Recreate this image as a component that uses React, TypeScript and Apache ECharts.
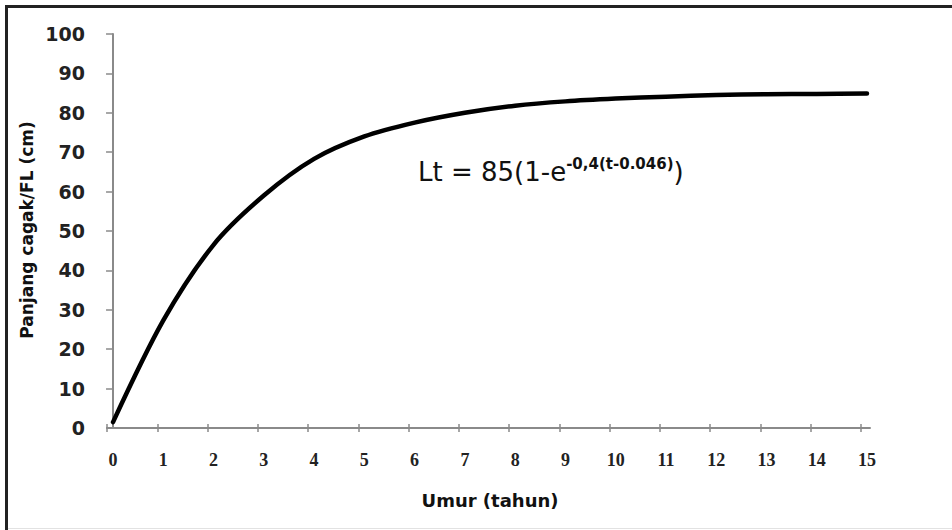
import React, { useEffect, useRef } from "react";
import * as echarts from "echarts";

const ages = [0, 1, 2, 3, 4, 5, 6, 7, 8, 9, 10, 11, 12, 13, 14, 15];
const lengths = [1.5, 27.3, 46.5, 59, 68.3, 74, 77.5, 80, 81.8, 82.9, 83.6, 84.1, 84.5, 84.7, 84.8, 84.9];
const xTickLabels = ["0", "1", "2", "3", "4", "5", "6", "7", "8", "9", "10", "11", "12", "13", "14", "15"];
const yTicks = [0, 10, 20, 30, 40, 50, 60, 70, 80, 90, 100];

const SANS = "'DejaVu Sans', 'Open Sans', sans-serif";
const SERIF = "'Liberation Serif', serif";
const AXIS_GRAY = "#8a8a8a";

export default function App() {
  const ref = useRef<HTMLDivElement>(null);

  useEffect(() => {
    if (!ref.current) return;
    const chart = echarts.init(ref.current, null, { renderer: "svg" });
    const xMin = -0.12;
    const xMax = 15.06;
    const tickOffsets = ages.map((a) => a + xMin);
    const xAxisBase = {
      type: "value" as const,
      min: xMin,
      max: xMax,
      splitLine: { show: false },
    };
    chart.setOption({
      animation: false,
      backgroundColor: "#ffffff",
      grid: { left: 107, top: 34, width: 763, height: 394, containLabel: false },
      xAxis: [
        {
          ...xAxisBase,
          axisLine: { show: true, lineStyle: { color: AXIS_GRAY, width: 2 } },
          axisTick: {
            show: true,
            length: 4,
            customValues: tickOffsets,
            lineStyle: { color: AXIS_GRAY, width: 1.5 },
          },
          axisLabel: {
            customValues: ages,
            formatter: (v: number) => xTickLabels[Math.round(v)] ?? "",
            margin: 23,
            fontFamily: SERIF,
            fontWeight: "bold",
            fontSize: 18,
            color: "#222",
          },
        },
        {
          ...xAxisBase,
          position: "bottom",
          axisLine: { show: false },
          axisTick: {
            show: true,
            inside: true,
            length: 4,
            customValues: tickOffsets,
            lineStyle: { color: AXIS_GRAY, width: 1.5 },
          },
          axisLabel: { show: false },
        },
      ],
      yAxis: {
        type: "value",
        min: 0,
        max: 100,
        interval: 10,
        splitLine: { show: false },
        axisLine: { show: true, lineStyle: { color: AXIS_GRAY, width: 2 } },
        axisTick: { show: true, length: 7, lineStyle: { color: AXIS_GRAY, width: 1.5 } },
        axisLabel: {
          margin: 22,
          fontFamily: SANS,
          fontWeight: "bold",
          fontSize: 19,
          color: "#222",
          formatter: (v: number) => (yTicks.includes(v) ? String(v) : ""),
        },
      },
      series: [
        {
          type: "line",
          xAxisIndex: 0,
          data: ages.map((a, i) => [a, lengths[i]]),
          smooth: 0.3,
          showSymbol: false,
          symbol: "none",
          lineStyle: { color: "#000", width: 4.5, cap: "round", join: "round" },
        },
      ],
      graphic: [
        {
          type: "line",
          shape: { x1: 5, y1: 6.5, x2: 952, y2: 6.5 },
          style: { stroke: "#222", lineWidth: 3 },
        },
        {
          type: "line",
          shape: { x1: 6.5, y1: 5, x2: 6.5, y2: 530 },
          style: { stroke: "#222", lineWidth: 3 },
        },
        {
          type: "line",
          shape: { x1: 8, y1: 528.5, x2: 952, y2: 528.5 },
          style: { stroke: "#e2e2e2", lineWidth: 1 },
        },
        {
          type: "text",
          x: 27,
          y: 230,
          rotation: Math.PI / 2,
          style: {
            text: "Panjang cagak/FL (cm)",
            fontFamily: SANS,
            fontWeight: "bold",
            fontSize: 17,
            fill: "#111",
            align: "center",
            verticalAlign: "middle",
          },
        },
        {
          type: "text",
          x: 490,
          y: 500,
          style: {
            text: "Umur (tahun)",
            fontFamily: SANS,
            fontWeight: "bold",
            fontSize: 18,
            fill: "#111",
            align: "center",
            verticalAlign: "middle",
          },
        },
        {
          type: "text",
          x: 418,
          y: 156,
          style: {
            text: "{a|Lt = 85(1-e}{s|-0,4(t-0.046)}{a|)}",
            fill: "#111",
            align: "left",
            verticalAlign: "top",
            rich: {
              a: { fontFamily: SANS, fontSize: 26, fill: "#111", lineHeight: 32 },
              s: {
                fontFamily: SANS,
                fontSize: 15,
                fontWeight: "bold",
                fill: "#111",
                verticalAlign: "top",
                lineHeight: 22,
              },
            },
          },
        },
      ],
    });
    return () => chart.dispose();
  }, []);

  return (
    <div
      ref={ref}
      style={{ position: "fixed", left: 0, top: 0, width: 952, height: 530, background: "#fff" }}
    />
  );
}
